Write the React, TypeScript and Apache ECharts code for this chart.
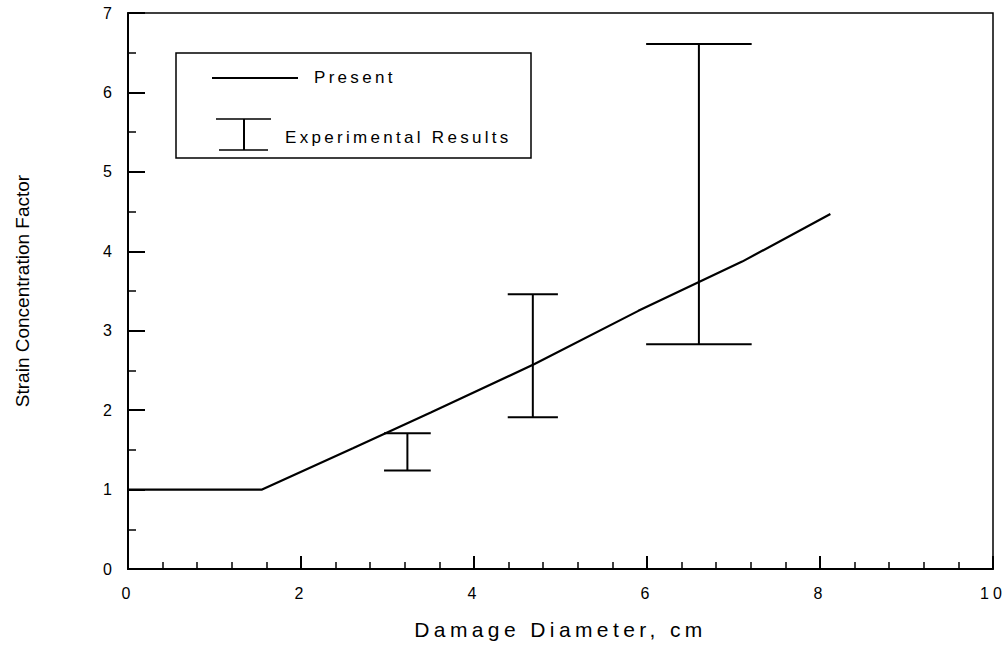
import React, { useEffect, useRef } from "react";
import * as echarts from "echarts";

// "Present" prediction curve
const presentX = [0, 1.55, 2.6, 3.5, 4.7, 5.9, 7.1, 8.12];
const presentY = [1, 1, 1.52, 1.97, 2.58, 3.25, 3.87, 4.47];

// Experimental results (error bars)
const expX = [3.23, 4.68, 6.6];
const expLow = [1.24, 1.91, 2.83];
const expHigh = [1.71, 3.46, 6.61];
const expCapHalf = [0.27, 0.29, 0.61];

// Axis ticks
const xTickLabels = ["0", "2", "4", "6", "8", "10"];
const yTickLabels = ["0", "1", "2", "3", "4", "5", "6", "7"];

const xTitle = "Damage Diameter, cm";
const yTitle = "Strain Concentration Factor";
const legendLine = "Present";
const legendBar = "Experimental Results";

const FONT = "'Liberation Sans', Arial, Helvetica, sans-serif";

export default function App() {
  const ref = useRef<HTMLDivElement>(null);

  useEffect(() => {
    if (!ref.current) return;
    const chart = echarts.init(ref.current, undefined, { renderer: "svg" });

    const lineData = presentX.map((x, i) => [x, presentY[i]]);
    const barData = expX.map((x, i) => [x, expLow[i], expHigh[i], expCapHalf[i]]);

    const st = { stroke: "#000", lineWidth: 2 };

    chart.setOption({
      animation: false,
      backgroundColor: "#fff",
      grid: {
        left: 128,
        right: 14,
        top: 13,
        bottom: 80,
        show: true,
        borderColor: "#000",
        borderWidth: 1.5,
        backgroundColor: "transparent",
      },
      xAxis: {
        type: "value",
        min: 0,
        max: 10,
        interval: 2,
        name: xTitle,
        nameLocation: "middle",
        nameGap: 50,
        nameTextStyle: { fontFamily: FONT, fontSize: 21, color: "#000" },
        axisLine: { show: true, lineStyle: { color: "#000", width: 2 } },
        axisTick: { show: true, inside: true, length: 13, lineStyle: { color: "#000", width: 2 } },
        minorTick: { show: true, splitNumber: 5, length: 7, lineStyle: { color: "#000", width: 1.5 } },
        splitLine: { show: false },
        axisLabel: {
          margin: 16,
          fontFamily: FONT,
          fontSize: 16,
          color: "#000",
          formatter: (v: number) => xTickLabels[Math.round(v / 2)] ?? "",
        },
      },
      yAxis: {
        type: "value",
        min: 0,
        max: 7,
        interval: 1,
        name: yTitle,
        nameLocation: "middle",
        nameGap: 96,
        nameRotate: 90,
        nameTextStyle: { fontFamily: FONT, fontSize: 19, color: "#000" },
        axisLine: { show: true, lineStyle: { color: "#000", width: 2 } },
        axisTick: { show: true, inside: true, length: 17, lineStyle: { color: "#000", width: 2 } },
        minorTick: { show: true, splitNumber: 2, length: 8, lineStyle: { color: "#000", width: 1.5 } },
        splitLine: { show: false },
        axisLabel: {
          margin: 12,
          fontFamily: FONT,
          fontSize: 16,
          color: "#000",
          padding: [6, 0, 0, 0],
          formatter: (v: number) => yTickLabels[Math.round(v)] ?? "",
        },
      },
      series: [
        {
          name: legendLine,
          type: "line",
          data: lineData,
          showSymbol: false,
          symbol: "none",
          lineStyle: { color: "#000", width: 2.2 },
          z: 3,
        },
        {
          name: legendBar,
          type: "custom",
          data: barData,
          encode: { x: 0, y: [1, 2] },
          z: 4,
          renderItem: (_params: any, api: any) => {
            const x = api.value(0);
            const lo = api.value(1);
            const hi = api.value(2);
            const hw = api.value(3);
            const top = api.coord([x, hi]);
            const bot = api.coord([x, lo]);
            const lt = api.coord([x - hw, hi]);
            const rt = api.coord([x + hw, hi]);
            const lb = api.coord([x - hw, lo]);
            const rb = api.coord([x + hw, lo]);
            return {
              type: "group",
              children: [
                { type: "line", shape: { x1: top[0], y1: top[1], x2: bot[0], y2: bot[1] }, style: st },
                { type: "line", shape: { x1: lt[0], y1: lt[1], x2: rt[0], y2: rt[1] }, style: st },
                { type: "line", shape: { x1: lb[0], y1: lb[1], x2: rb[0], y2: rb[1] }, style: st },
              ],
            };
          },
        },
      ],
      graphic: [
        {
          type: "rect",
          shape: { x: 176, y: 53, width: 355, height: 105 },
          style: { fill: "#fff", stroke: "#000", lineWidth: 1.5 },
          z: 10,
        },
        {
          type: "line",
          shape: { x1: 212, y1: 78, x2: 298, y2: 78 },
          style: { stroke: "#000", lineWidth: 2 },
          z: 11,
        },
        {
          type: "text",
          x: 314,
          y: 77,
          style: {
            text: legendLine,
            font: `17px ${FONT}`,
            fill: "#000",
            verticalAlign: "middle",
            align: "left",
          },
          z: 11,
        },
        { type: "line", shape: { x1: 216, y1: 119, x2: 271, y2: 119 }, style: { stroke: "#000", lineWidth: 1.5 }, z: 11 },
        { type: "line", shape: { x1: 219, y1: 150, x2: 268, y2: 150 }, style: { stroke: "#000", lineWidth: 1.5 }, z: 11 },
        { type: "line", shape: { x1: 244, y1: 119, x2: 244, y2: 150 }, style: { stroke: "#000", lineWidth: 2 }, z: 11 },
        {
          type: "text",
          x: 285,
          y: 137,
          style: {
            text: legendBar,
            font: `17px ${FONT}`,
            fill: "#000",
            verticalAlign: "middle",
            align: "left",
          },
          z: 11,
        },
      ],
    });

    return () => chart.dispose();
  }, []);

  return (
    <>
      <style>{`
        .chartbox text[style*="16px"] { letter-spacing: 4px; }
        .chartbox text[style*="17px"] { letter-spacing: 3.3px; }
        .chartbox text[style*="21px"] { letter-spacing: 4.4px; }
      `}</style>
      <div
        ref={ref}
        className="chartbox"
        style={{ position: "fixed", left: 0, top: 0, width: 1007, height: 649, background: "#fff" }}
      />
    </>
  );
}
